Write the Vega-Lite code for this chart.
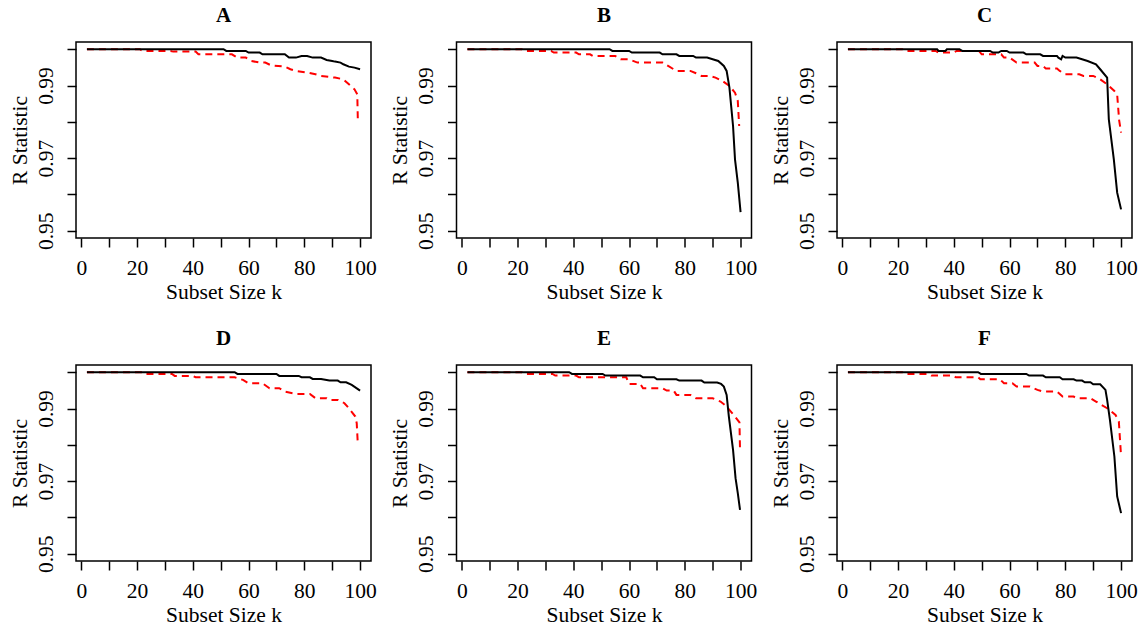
{
"$schema":"https://vega.github.io/schema/vega-lite/v6.json",
"padding":{"left":8,"top":4,"right":0,"bottom":0},
"datasets":{"pts":[
{"panel":"A","series":"Method 2","k":2,"v":1.0},{"panel":"A","series":"Method 2","k":21,"v":1.0},{"panel":"A","series":"Method 2","k":22,"v":0.99954},{"panel":"A","series":"Method 2","k":32,"v":0.99954},{"panel":"A","series":"Method 2","k":33,"v":0.99935},{"panel":"A","series":"Method 2","k":41,"v":0.99935},{"panel":"A","series":"Method 2","k":42,"v":0.99862},{"panel":"A","series":"Method 2","k":54,"v":0.99862},{"panel":"A","series":"Method 2","k":56,"v":0.9977},{"panel":"A","series":"Method 2","k":59,"v":0.9977},{"panel":"A","series":"Method 2","k":61,"v":0.99678},{"panel":"A","series":"Method 2","k":64,"v":0.99632},{"panel":"A","series":"Method 2","k":66,"v":0.99632},{"panel":"A","series":"Method 2","k":68,"v":0.99559},{"panel":"A","series":"Method 2","k":73,"v":0.99522},{"panel":"A","series":"Method 2","k":75,"v":0.99449},{"panel":"A","series":"Method 2","k":77,"v":0.99403},{"panel":"A","series":"Method 2","k":81,"v":0.99357},{"panel":"A","series":"Method 2","k":84,"v":0.99311},{"panel":"A","series":"Method 2","k":86,"v":0.99265},{"panel":"A","series":"Method 2","k":91,"v":0.99219},{"panel":"A","series":"Method 2","k":94,"v":0.99173},{"panel":"A","series":"Method 2","k":96,"v":0.99035},{"panel":"A","series":"Method 2","k":98,"v":0.98897},{"panel":"A","series":"Method 2","k":99,"v":0.98759},{"panel":"A","series":"Method 2","k":99.2,"v":0.98024},
{"panel":"A","series":"Method 1","k":2,"v":1.0},{"panel":"A","series":"Method 1","k":51,"v":1.0},{"panel":"A","series":"Method 1","k":52,"v":0.99954},{"panel":"A","series":"Method 1","k":59,"v":0.99954},{"panel":"A","series":"Method 1","k":60,"v":0.99908},{"panel":"A","series":"Method 1","k":64,"v":0.99908},{"panel":"A","series":"Method 1","k":65,"v":0.99862},{"panel":"A","series":"Method 1","k":73,"v":0.99862},{"panel":"A","series":"Method 1","k":74.5,"v":0.9977},{"panel":"A","series":"Method 1","k":77,"v":0.9977},{"panel":"A","series":"Method 1","k":79,"v":0.99816},{"panel":"A","series":"Method 1","k":81,"v":0.99816},{"panel":"A","series":"Method 1","k":83,"v":0.9977},{"panel":"A","series":"Method 1","k":86,"v":0.9977},{"panel":"A","series":"Method 1","k":88,"v":0.99706},{"panel":"A","series":"Method 1","k":90,"v":0.99678},{"panel":"A","series":"Method 1","k":91,"v":0.9966},{"panel":"A","series":"Method 1","k":93,"v":0.99632},{"panel":"A","series":"Method 1","k":94,"v":0.99586},{"panel":"A","series":"Method 1","k":96,"v":0.99522},{"panel":"A","series":"Method 1","k":98,"v":0.99494},{"panel":"A","series":"Method 1","k":100,"v":0.99449},
{"panel":"B","series":"Method 2","k":2,"v":1.0},{"panel":"B","series":"Method 2","k":21.5,"v":1.0},{"panel":"B","series":"Method 2","k":22.5,"v":0.99954},{"panel":"B","series":"Method 2","k":32,"v":0.99954},{"panel":"B","series":"Method 2","k":33,"v":0.99908},{"panel":"B","series":"Method 2","k":41,"v":0.99908},{"panel":"B","series":"Method 2","k":42,"v":0.99862},{"panel":"B","series":"Method 2","k":46,"v":0.99862},{"panel":"B","series":"Method 2","k":47,"v":0.99816},{"panel":"B","series":"Method 2","k":55,"v":0.99816},{"panel":"B","series":"Method 2","k":57,"v":0.99724},{"panel":"B","series":"Method 2","k":60,"v":0.99724},{"panel":"B","series":"Method 2","k":63,"v":0.99632},{"panel":"B","series":"Method 2","k":72,"v":0.99632},{"panel":"B","series":"Method 2","k":74,"v":0.9954},{"panel":"B","series":"Method 2","k":77,"v":0.99403},{"panel":"B","series":"Method 2","k":82,"v":0.99403},{"panel":"B","series":"Method 2","k":84,"v":0.99338},{"panel":"B","series":"Method 2","k":86,"v":0.99265},{"panel":"B","series":"Method 2","k":89,"v":0.99265},{"panel":"B","series":"Method 2","k":91,"v":0.99219},{"panel":"B","series":"Method 2","k":93.5,"v":0.99127},{"panel":"B","series":"Method 2","k":96,"v":0.98989},{"panel":"B","series":"Method 2","k":98,"v":0.98805},{"panel":"B","series":"Method 2","k":99,"v":0.98576},{"panel":"B","series":"Method 2","k":99.5,"v":0.97886},
{"panel":"B","series":"Method 1","k":2,"v":1.0},{"panel":"B","series":"Method 1","k":53,"v":1.0},{"panel":"B","series":"Method 1","k":54,"v":0.99954},{"panel":"B","series":"Method 1","k":60,"v":0.99954},{"panel":"B","series":"Method 1","k":61,"v":0.99908},{"panel":"B","series":"Method 1","k":71,"v":0.99908},{"panel":"B","series":"Method 1","k":72,"v":0.99862},{"panel":"B","series":"Method 1","k":77,"v":0.99862},{"panel":"B","series":"Method 1","k":78,"v":0.99816},{"panel":"B","series":"Method 1","k":83,"v":0.99816},{"panel":"B","series":"Method 1","k":84,"v":0.9977},{"panel":"B","series":"Method 1","k":88,"v":0.9977},{"panel":"B","series":"Method 1","k":90,"v":0.99724},{"panel":"B","series":"Method 1","k":92,"v":0.99678},{"panel":"B","series":"Method 1","k":94,"v":0.9954},{"panel":"B","series":"Method 1","k":95,"v":0.99403},{"panel":"B","series":"Method 1","k":96,"v":0.98943},{"panel":"B","series":"Method 1","k":97.3,"v":0.97886},{"panel":"B","series":"Method 1","k":98,"v":0.96967},{"panel":"B","series":"Method 1","k":99,"v":0.96324},{"panel":"B","series":"Method 1","k":100,"v":0.95515},
{"panel":"C","series":"Method 2","k":2,"v":1.0},{"panel":"C","series":"Method 2","k":21.5,"v":1.0},{"panel":"C","series":"Method 2","k":22.5,"v":0.99954},{"panel":"C","series":"Method 2","k":33.5,"v":0.99954},{"panel":"C","series":"Method 2","k":34.5,"v":0.99908},{"panel":"C","series":"Method 2","k":40,"v":0.99908},{"panel":"C","series":"Method 2","k":41,"v":0.99954},{"panel":"C","series":"Method 2","k":49,"v":0.99954},{"panel":"C","series":"Method 2","k":50,"v":0.99862},{"panel":"C","series":"Method 2","k":57,"v":0.99862},{"panel":"C","series":"Method 2","k":58,"v":0.9977},{"panel":"C","series":"Method 2","k":60,"v":0.9977},{"panel":"C","series":"Method 2","k":62.5,"v":0.99632},{"panel":"C","series":"Method 2","k":69,"v":0.99632},{"panel":"C","series":"Method 2","k":70,"v":0.9954},{"panel":"C","series":"Method 2","k":72,"v":0.9954},{"panel":"C","series":"Method 2","k":73,"v":0.99467},{"panel":"C","series":"Method 2","k":77,"v":0.99467},{"panel":"C","series":"Method 2","k":78,"v":0.99403},{"panel":"C","series":"Method 2","k":80,"v":0.99311},{"panel":"C","series":"Method 2","k":85,"v":0.99311},{"panel":"C","series":"Method 2","k":86.5,"v":0.99265},{"panel":"C","series":"Method 2","k":90,"v":0.99265},{"panel":"C","series":"Method 2","k":92.5,"v":0.99173},{"panel":"C","series":"Method 2","k":95,"v":0.99035},{"panel":"C","series":"Method 2","k":97.6,"v":0.98851},{"panel":"C","series":"Method 2","k":98.6,"v":0.9875},{"panel":"C","series":"Method 2","k":99.3,"v":0.9805},{"panel":"C","series":"Method 2","k":100,"v":0.97702},
{"panel":"C","series":"Method 1","k":2,"v":1.0},{"panel":"C","series":"Method 1","k":34,"v":1.0},{"panel":"C","series":"Method 1","k":34.5,"v":0.99954},{"panel":"C","series":"Method 1","k":37,"v":0.99954},{"panel":"C","series":"Method 1","k":37.5,"v":1.0},{"panel":"C","series":"Method 1","k":42,"v":1.0},{"panel":"C","series":"Method 1","k":43,"v":0.99954},{"panel":"C","series":"Method 1","k":53,"v":0.99954},{"panel":"C","series":"Method 1","k":54,"v":0.99908},{"panel":"C","series":"Method 1","k":56,"v":0.99908},{"panel":"C","series":"Method 1","k":57,"v":0.99954},{"panel":"C","series":"Method 1","k":59,"v":0.99954},{"panel":"C","series":"Method 1","k":60,"v":0.99908},{"panel":"C","series":"Method 1","k":65,"v":0.99908},{"panel":"C","series":"Method 1","k":66,"v":0.99862},{"panel":"C","series":"Method 1","k":71,"v":0.99862},{"panel":"C","series":"Method 1","k":72,"v":0.99816},{"panel":"C","series":"Method 1","k":77,"v":0.99816},{"panel":"C","series":"Method 1","k":77.5,"v":0.9977},{"panel":"C","series":"Method 1","k":78.5,"v":0.99724},{"panel":"C","series":"Method 1","k":79,"v":0.99816},{"panel":"C","series":"Method 1","k":80,"v":0.9977},{"panel":"C","series":"Method 1","k":84,"v":0.9977},{"panel":"C","series":"Method 1","k":86,"v":0.99724},{"panel":"C","series":"Method 1","k":88,"v":0.99678},{"panel":"C","series":"Method 1","k":91,"v":0.99586},{"panel":"C","series":"Method 1","k":92.5,"v":0.99449},{"panel":"C","series":"Method 1","k":95,"v":0.99219},{"panel":"C","series":"Method 1","k":95.6,"v":0.9807},{"panel":"C","series":"Method 1","k":97.4,"v":0.96967},{"panel":"C","series":"Method 1","k":98.6,"v":0.96048},{"panel":"C","series":"Method 1","k":100,"v":0.95589},
{"panel":"D","series":"Method 2","k":2,"v":1.0},{"panel":"D","series":"Method 2","k":22,"v":1.0},{"panel":"D","series":"Method 2","k":23,"v":0.99954},{"panel":"D","series":"Method 2","k":32.5,"v":0.99954},{"panel":"D","series":"Method 2","k":33.5,"v":0.99899},{"panel":"D","series":"Method 2","k":40,"v":0.99899},{"panel":"D","series":"Method 2","k":41,"v":0.99862},{"panel":"D","series":"Method 2","k":55,"v":0.99862},{"panel":"D","series":"Method 2","k":58,"v":0.99789},{"panel":"D","series":"Method 2","k":60,"v":0.99697},{"panel":"D","series":"Method 2","k":65,"v":0.99697},{"panel":"D","series":"Method 2","k":67.5,"v":0.9956},{"panel":"D","series":"Method 2","k":71,"v":0.9956},{"panel":"D","series":"Method 2","k":73,"v":0.99468},{"panel":"D","series":"Method 2","k":77,"v":0.99404},{"panel":"D","series":"Method 2","k":82,"v":0.99404},{"panel":"D","series":"Method 2","k":84,"v":0.99284},{"panel":"D","series":"Method 2","k":88,"v":0.99284},{"panel":"D","series":"Method 2","k":89,"v":0.99239},{"panel":"D","series":"Method 2","k":92,"v":0.99239},{"panel":"D","series":"Method 2","k":94.4,"v":0.99147},{"panel":"D","series":"Method 2","k":96,"v":0.99009},{"panel":"D","series":"Method 2","k":98.3,"v":0.9878},{"panel":"D","series":"Method 2","k":98.8,"v":0.98596},{"panel":"D","series":"Method 2","k":99.2,"v":0.98},
{"panel":"D","series":"Method 1","k":2,"v":1.0},{"panel":"D","series":"Method 1","k":55,"v":1.0},{"panel":"D","series":"Method 1","k":56,"v":0.99954},{"panel":"D","series":"Method 1","k":70,"v":0.99954},{"panel":"D","series":"Method 1","k":71,"v":0.99899},{"panel":"D","series":"Method 1","k":78,"v":0.99899},{"panel":"D","series":"Method 1","k":79,"v":0.99862},{"panel":"D","series":"Method 1","k":82,"v":0.99862},{"panel":"D","series":"Method 1","k":83,"v":0.99817},{"panel":"D","series":"Method 1","k":86,"v":0.99817},{"panel":"D","series":"Method 1","k":89,"v":0.99771},{"panel":"D","series":"Method 1","k":92,"v":0.99771},{"panel":"D","series":"Method 1","k":93,"v":0.99725},{"panel":"D","series":"Method 1","k":95,"v":0.99725},{"panel":"D","series":"Method 1","k":97,"v":0.99651},{"panel":"D","series":"Method 1","k":100,"v":0.99495},
{"panel":"E","series":"Method 2","k":2,"v":1.0},{"panel":"E","series":"Method 2","k":21.5,"v":1.0},{"panel":"E","series":"Method 2","k":22.5,"v":0.99954},{"panel":"E","series":"Method 2","k":32.5,"v":0.99954},{"panel":"E","series":"Method 2","k":33.5,"v":0.99908},{"panel":"E","series":"Method 2","k":41,"v":0.99908},{"panel":"E","series":"Method 2","k":42,"v":0.99862},{"panel":"E","series":"Method 2","k":59,"v":0.99862},{"panel":"E","series":"Method 2","k":60,"v":0.99679},{"panel":"E","series":"Method 2","k":64,"v":0.99679},{"panel":"E","series":"Method 2","k":65,"v":0.9956},{"panel":"E","series":"Method 2","k":72,"v":0.9956},{"panel":"E","series":"Method 2","k":73.5,"v":0.99495},{"panel":"E","series":"Method 2","k":76,"v":0.99495},{"panel":"E","series":"Method 2","k":77,"v":0.99376},{"panel":"E","series":"Method 2","k":82,"v":0.99376},{"panel":"E","series":"Method 2","k":84,"v":0.99284},{"panel":"E","series":"Method 2","k":90,"v":0.99284},{"panel":"E","series":"Method 2","k":92.8,"v":0.99193},{"panel":"E","series":"Method 2","k":95,"v":0.99055},{"panel":"E","series":"Method 2","k":98,"v":0.9878},{"panel":"E","series":"Method 2","k":99.6,"v":0.9862},{"panel":"E","series":"Method 2","k":99.8,"v":0.97862},
{"panel":"E","series":"Method 1","k":2,"v":1.0},{"panel":"E","series":"Method 1","k":38.5,"v":1.0},{"panel":"E","series":"Method 1","k":39.5,"v":0.99954},{"panel":"E","series":"Method 1","k":50.5,"v":0.99954},{"panel":"E","series":"Method 1","k":51.5,"v":0.99908},{"panel":"E","series":"Method 1","k":64,"v":0.99908},{"panel":"E","series":"Method 1","k":65,"v":0.99862},{"panel":"E","series":"Method 1","k":69,"v":0.99862},{"panel":"E","series":"Method 1","k":70,"v":0.99807},{"panel":"E","series":"Method 1","k":77,"v":0.99807},{"panel":"E","series":"Method 1","k":78,"v":0.99771},{"panel":"E","series":"Method 1","k":86,"v":0.99771},{"panel":"E","series":"Method 1","k":87,"v":0.99716},{"panel":"E","series":"Method 1","k":91.6,"v":0.99716},{"panel":"E","series":"Method 1","k":93,"v":0.99679},{"panel":"E","series":"Method 1","k":94,"v":0.99606},{"panel":"E","series":"Method 1","k":95,"v":0.99376},{"panel":"E","series":"Method 1","k":95.8,"v":0.9878},{"panel":"E","series":"Method 1","k":97.3,"v":0.97862},{"panel":"E","series":"Method 1","k":98.2,"v":0.97083},{"panel":"E","series":"Method 1","k":99,"v":0.9667},{"panel":"E","series":"Method 1","k":99.8,"v":0.96211},
{"panel":"F","series":"Method 2","k":2,"v":1.0},{"panel":"F","series":"Method 2","k":21.5,"v":1.0},{"panel":"F","series":"Method 2","k":22.5,"v":0.99954},{"panel":"F","series":"Method 2","k":31,"v":0.99954},{"panel":"F","series":"Method 2","k":32,"v":0.99908},{"panel":"F","series":"Method 2","k":39.7,"v":0.99908},{"panel":"F","series":"Method 2","k":40.7,"v":0.99862},{"panel":"F","series":"Method 2","k":48.7,"v":0.99862},{"panel":"F","series":"Method 2","k":49.5,"v":0.99807},{"panel":"F","series":"Method 2","k":56.5,"v":0.99807},{"panel":"F","series":"Method 2","k":58,"v":0.99697},{"panel":"F","series":"Method 2","k":61,"v":0.99697},{"panel":"F","series":"Method 2","k":62.5,"v":0.99606},{"panel":"F","series":"Method 2","k":67.3,"v":0.99606},{"panel":"F","series":"Method 2","k":70,"v":0.99514},{"panel":"F","series":"Method 2","k":72,"v":0.99468},{"panel":"F","series":"Method 2","k":77,"v":0.99468},{"panel":"F","series":"Method 2","k":79,"v":0.9933},{"panel":"F","series":"Method 2","k":83,"v":0.9933},{"panel":"F","series":"Method 2","k":84,"v":0.99284},{"panel":"F","series":"Method 2","k":89,"v":0.99284},{"panel":"F","series":"Method 2","k":91,"v":0.99193},{"panel":"F","series":"Method 2","k":95,"v":0.99009},{"panel":"F","series":"Method 2","k":98,"v":0.98826},{"panel":"F","series":"Method 2","k":99.2,"v":0.98642},{"panel":"F","series":"Method 2","k":100,"v":0.97679},
{"panel":"F","series":"Method 1","k":2,"v":1.0},{"panel":"F","series":"Method 1","k":48.7,"v":1.0},{"panel":"F","series":"Method 1","k":49.7,"v":0.99954},{"panel":"F","series":"Method 1","k":66,"v":0.99954},{"panel":"F","series":"Method 1","k":67,"v":0.99908},{"panel":"F","series":"Method 1","k":72,"v":0.99908},{"panel":"F","series":"Method 1","k":73,"v":0.99862},{"panel":"F","series":"Method 1","k":78,"v":0.99862},{"panel":"F","series":"Method 1","k":79,"v":0.99807},{"panel":"F","series":"Method 1","k":83,"v":0.99807},{"panel":"F","series":"Method 1","k":84,"v":0.99771},{"panel":"F","series":"Method 1","k":86,"v":0.99771},{"panel":"F","series":"Method 1","k":87,"v":0.99725},{"panel":"F","series":"Method 1","k":89,"v":0.99725},{"panel":"F","series":"Method 1","k":90,"v":0.9967},{"panel":"F","series":"Method 1","k":92.5,"v":0.9967},{"panel":"F","series":"Method 1","k":94.4,"v":0.99514},{"panel":"F","series":"Method 1","k":95,"v":0.99239},{"panel":"F","series":"Method 1","k":96,"v":0.98688},{"panel":"F","series":"Method 1","k":97.6,"v":0.97679},{"panel":"F","series":"Method 1","k":98.6,"v":0.96578},{"panel":"F","series":"Method 1","k":100,"v":0.96119}
]},
"data":{"name":"pts"},
"facet":{"field":"panel","type":"nominal","title":null,
  "header":{"labelFont":"Liberation Serif","labelFontSize":21,"labelFontWeight":"bold","labelColor":"black","labelPadding":16}},
"columns":3,
"spacing":{"column":11.5,"row":23},
"resolve":{"axis":{"x":"independent","y":"independent"}},
"spec":{
  "width":295,"height":196,
  "layer":[
    {"transform":[{"filter":"datum.series == 'Method 2'"}],
     "mark":{"type":"line","color":"#ff0000","strokeWidth":2,"strokeDash":[7,5]}},
    {"transform":[{"filter":"datum.series == 'Method 1'"}],
     "mark":{"type":"line","color":"#000000","strokeWidth":2}}
  ],
  "encoding":{
    "x":{"field":"k","type":"quantitative","scale":{"domain":[-1.92,103.92],"nice":false,"zero":false},
      "axis":{"title":"Subset Size k","values":[0,10,20,30,40,50,60,70,80,90,100],
        "labelExpr":"datum.value % 20 == 0 ? datum.label : ''","format":"d",
        "grid":false,"domain":false,"tickSize":9,"tickWidth":1.5,"tickColor":"black",
        "labelFlush":false,"labelOverlap":false,"labelBound":false,"labelPadding":10,"titlePadding":3}},
    "y":{"field":"v","type":"quantitative","scale":{"domain":[0.948,1.002],"nice":false,"zero":false},
      "axis":{"title":"R Statistic","values":[0.95,0.96,0.97,0.98,0.99,1.0],
        "labelExpr":"(abs(datum.value-0.95)<0.001 || abs(datum.value-0.97)<0.001 || abs(datum.value-0.99)<0.001) ? datum.label : ''",
        "format":".2f","grid":false,"domain":false,"tickSize":9,"tickWidth":1.5,"tickColor":"black",
        "labelAngle":270,"labelAlign":"center","labelBaseline":"alphabetic","labelPadding":15,
        "labelFlush":false,"labelOverlap":false,"labelBound":false,"titlePadding":4}}
  }
},
"config":{
  "view":{"stroke":"black","strokeWidth":1.5},
  "axis":{"labelFont":"Liberation Serif","labelFontSize":21.5,"labelColor":"black",
    "titleFont":"Liberation Serif","titleFontSize":21.5,"titleFontWeight":"normal","titleColor":"black"}
}
}
